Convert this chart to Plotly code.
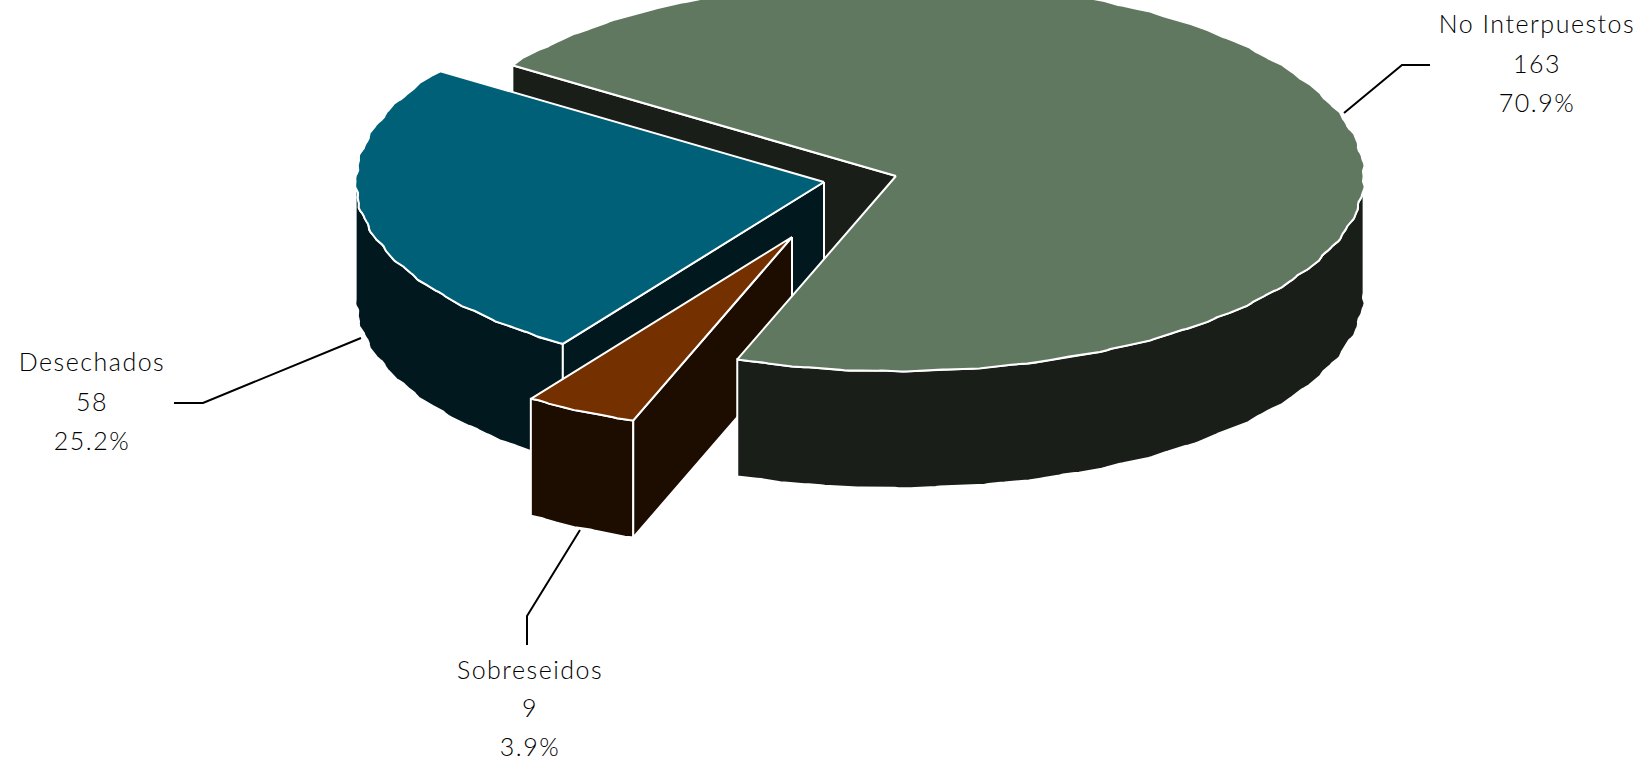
import numpy as np
import plotly.graph_objects as go

# Data
categories = ["No Interpuestos", "Sobreseidos", "Desechados"]
values = [163, 9, 58]

# Style and layout of the 3D pie
W, H = 1642, 763
CX, CY = 896.0, 176.0
RX, RY = 468.0, 195.0
DEPTH = 117.0
FIRST_ANGLE = 304.7
offsets = {"No Interpuestos": (0, 0), "Sobreseidos": (-104, 61), "Desechados": (-72, 6)}
top_colors = {"No Interpuestos": "#607860", "Sobreseidos": "#753000", "Desechados": "#006078"}
side_colors = {"No Interpuestos": "#191E18", "Sobreseidos": "#1D0C00", "Desechados": "#00181E"}
label_pos = {
    "No Interpuestos": (1537, [27, 67, 106]),
    "Sobreseidos": (530, [673, 711, 750]),
    "Desechados": (92, [365, 405, 444]),
}
leaders = {
    "No Interpuestos": ([1344, 1402, 1430], [113, 65, 65]),
    "Sobreseidos": ([580, 527, 527], [530, 616, 645]),
    "Desechados": ([361, 203, 174], [338, 403, 403]),
}

total = sum(values)
spans = {}
a = FIRST_ANGLE
for c, v in zip(categories, values):
    spans[c] = (a, a + 360.0 * v / total)
    a += 360.0 * v / total


def rim(c, a0, a1, dz=0.0):
    """Outer rim between two clockwise-from-top angles, with the slightly wavy outline of the original."""
    n = max(2, int(abs(a1 - a0) / 0.5))
    t = np.radians(np.linspace(a0, a1, n))
    wob = 1 + 0.002 * np.sin(t * 47) + 0.0012 * np.sin(t * 113)
    ox, oy = offsets[c]
    return CX + ox + RX * wob * np.sin(t), CY + oy + RY * wob * -np.cos(t) + dz


def poly(xs, ys, color):
    return go.Scatter(x=list(xs), y=list(ys), mode="lines", fill="toself", fillcolor=color,
                      line=dict(color="white", width=2), hoverinfo="skip", showlegend=False)


def apex(c):
    return CX + offsets[c][0], CY + offsets[c][1]


def top_face(c):
    a0, a1 = spans[c]
    x, y = rim(c, a0, a1)
    px, py = apex(c)
    return poly(np.r_[px, x, px], np.r_[py, y, py], top_colors[c])


def outer_wall(c, a0, a1):
    x, y = rim(c, a0, a1)
    xb, yb = rim(c, a1, a0, DEPTH)
    return poly(np.r_[x, xb, x[0]], np.r_[y, yb, y[0]], side_colors[c])


def cut_wall(c, angle):
    x, y = rim(c, angle, angle)
    px, py = apex(c)
    return poly([px, x[0], x[0], px, px], [py, y[0], y[0] + DEPTH, py + DEPTH, py], side_colors[c])


fig = go.Figure()
n, s, d = categories
# Back to front
fig.add_trace(cut_wall(n, spans[n][0]))
fig.add_trace(outer_wall(d, spans[d][0], 630))
fig.add_trace(cut_wall(d, spans[d][0]))
fig.add_trace(top_face(d))
fig.add_trace(outer_wall(s, spans[s][0], spans[s][1]))
fig.add_trace(cut_wall(s, spans[s][0]))
fig.add_trace(top_face(s))
fig.add_trace(outer_wall(n, 450, spans[n][1]))
fig.add_trace(top_face(n))

for c, v in zip(categories, values):
    lx, ly = leaders[c]
    fig.add_trace(go.Scatter(x=lx, y=ly, mode="lines", line=dict(color="black", width=2),
                             hoverinfo="skip", showlegend=False))
    tx, tys = label_pos[c]
    fig.add_trace(go.Scatter(x=[tx] * 3, y=tys, mode="text", cliponaxis=False,
                             text=[c, str(v), f"{100 * v / total:.1f}%"],
                             textposition="middle center",
                             textfont=dict(family="Lato, 'Open Sans', sans-serif", size=25, color="#000000", weight=300),
                             hoverinfo="skip", showlegend=False))

fig.update_layout(width=W, height=H, margin=dict(l=0, r=0, t=0, b=0),
                  paper_bgcolor="white", plot_bgcolor="white", showlegend=False,
                  xaxis=dict(range=[0, W], visible=False, fixedrange=True),
                  yaxis=dict(range=[H, 0], visible=False, fixedrange=True))
fig.write_html("out.html", config={"displayModeBar": False},
               post_script="document.body.style.margin='0';document.body.style.overflow='hidden';"
                           "document.querySelectorAll('.textpoint text').forEach(function(t){t.style.letterSpacing='1.5px';});")
